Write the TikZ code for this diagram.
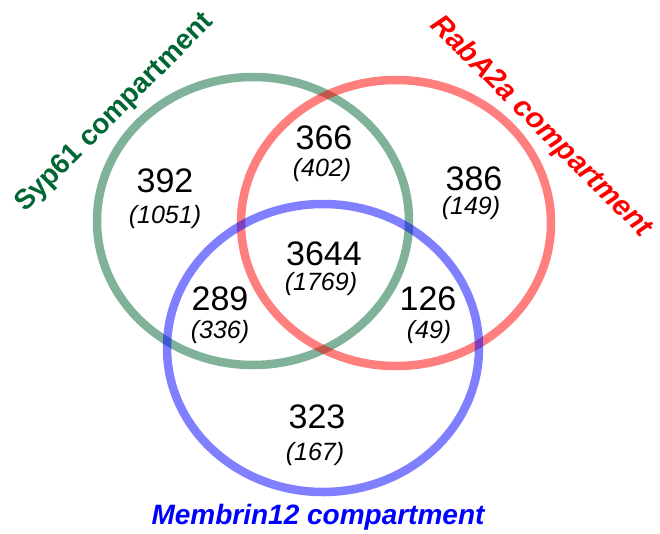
\documentclass[tikz,border=0pt]{standalone}
\usepackage{fontspec}
\setmainfont{Liberation Sans}
\usepackage{tikz}
\usetikzlibrary{calc}
\definecolor{sypgreen}{RGB}{0,102,51}
\tikzset{
	ring/.style={line width=8.5pt, draw opacity=0.5},
	num/.style={inner sep=0pt, font=\fontsize{34}{40}\selectfont},
	cnt/.style={inner sep=0pt, font=\fontsize{25}{30}\selectfont\itshape},
	setlabel/.style={inner sep=0pt, font=\fontsize{28}{32}\selectfont\bfseries\itshape}
}
\begin{document}
\begin{tikzpicture}[x=1pt,y=-1pt]

	\useasboundingbox (0,0) rectangle (660,533);

	\draw[ring,sypgreen] (253,221) ellipse[x radius=156, y radius=144]; %Syp61
	\draw[ring,red] (396,223) ellipse[x radius=155, y radius=143]; %RabA2a
	\draw[ring,blue] (323,348) ellipse[x radius=156, y radius=144]; %Membrin12

	\node[setlabel,font=\fontsize{28}{32}\selectfont\bfseries,sypgreen,rotate=45] (syp) at (115,113) {Syp61 compartment};
	\node[setlabel,font=\fontsize{29}{34}\selectfont\bfseries\itshape,red,rotate=-45] (rab) at (541,127) {RabA2a compartment};
	\node[setlabel,blue] (mem) at (318,517) {Membrin12 compartment};

	\node[num] (n392) at (165,181) {392};
	\node[cnt] (c392) at (165,217) {(1051)};
	\node[num] (n366) at (324,138) {366};
	\node[cnt] (c366) at (322,170) {(402)};
	\node[num] (n386) at (474,179) {386};
	\node[cnt] (c386) at (471,208) {(149)};
	\node[num] (n3644) at (324,254) {3644};
	\node[cnt] (c3644) at (321,284) {(1769)};
	\node[num] (n289) at (220,299) {289};
	\node[cnt] (c289) at (220,332) {(336)};
	\node[num] (n126) at (428,299) {126};
	\node[cnt] (c126) at (429,332) {(49)};
	\node[num] (n323) at (317,417) {323};
	\node[cnt] (c323) at (315,454) {(167)};

\end{tikzpicture}
\end{document}
